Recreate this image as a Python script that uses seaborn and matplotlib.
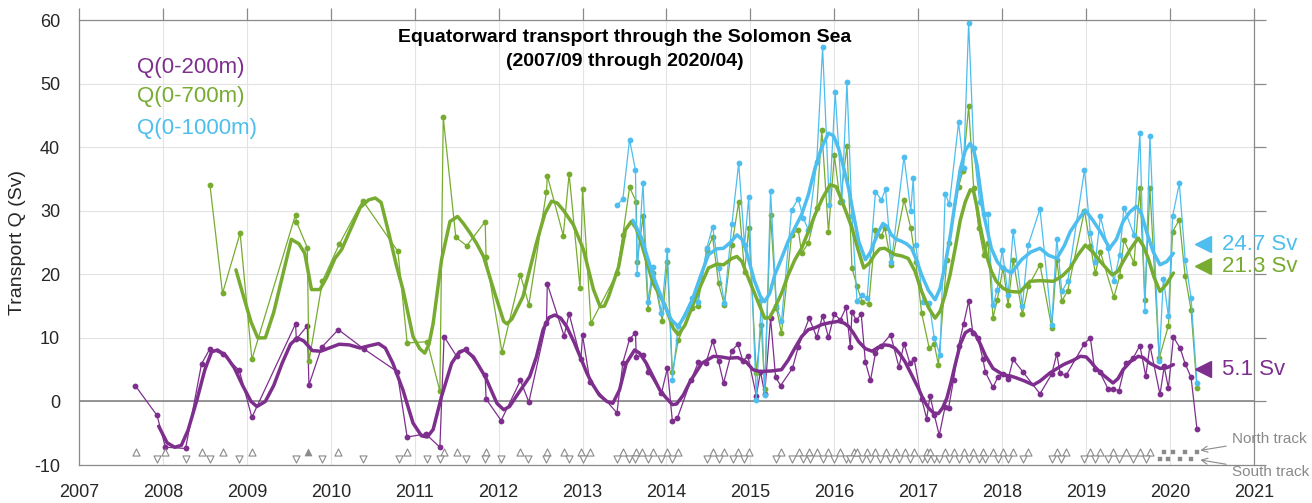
import numpy as np
import pandas as pd
import seaborn as sns
import matplotlib.pyplot as plt

# ---- raw transport estimates (decimal year, Sv) ----
t200 = [2007.67, 2007.93, 2008.03, 2008.27, 2008.46, 2008.56, 2008.71, 2008.91, 2009.06, 2009.58,
        2009.59, 2009.72, 2009.74, 2009.89, 2010.09, 2010.39, 2010.79, 2010.91, 2011.13, 2011.30,
        2011.35, 2011.50, 2011.61, 2011.84, 2011.85, 2012.03, 2012.26, 2012.36, 2012.57, 2012.58,
        2012.78, 2012.84, 2012.98, 2013.00, 2013.09, 2013.41, 2013.48, 2013.56, 2013.63, 2013.64,
        2013.72, 2013.78, 2013.94, 2014.01, 2014.07, 2014.13, 2014.29, 2014.38, 2014.47, 2014.55,
        2014.62, 2014.68, 2014.78, 2014.85, 2014.91, 2014.97, 2015.07, 2015.12, 2015.17, 2015.24,
        2015.30, 2015.36, 2015.50, 2015.57, 2015.70, 2015.79, 2015.86, 2015.93, 2016.00, 2016.07,
        2016.14, 2016.19, 2016.21, 2016.26, 2016.32, 2016.37, 2016.43, 2016.49, 2016.56, 2016.67,
        2016.77, 2016.83, 2016.90, 2016.95, 2017.04, 2017.10, 2017.14, 2017.19, 2017.25, 2017.32,
        2017.36, 2017.42, 2017.48, 2017.54, 2017.60, 2017.65, 2017.71, 2017.77, 2017.80, 2017.89,
        2017.95, 2018.01, 2018.07, 2018.13, 2018.25, 2018.45, 2018.59, 2018.65, 2018.69, 2018.76,
        2018.98, 2019.05, 2019.10, 2019.16, 2019.26, 2019.32, 2019.39, 2019.47, 2019.56, 2019.64,
        2019.71, 2019.76, 2019.88, 2019.93, 2019.98, 2020.04, 2020.12, 2020.18, 2020.25, 2020.32]
q200 = [2.5, -2.2, -7.2, -7.4, 5.9, 8.3, 7.4, 4.9, -2.5, 12.2,
        9.8, 11.9, 2.6, 8.5, 11.3, 8.3, 4.7, -5.6, -5.1, -7.2,
        10.2, 7.1, 8.2, 4.1, 0.4, -3.0, 3.3, -0.1, 12.4, 18.5,
        10.3, 13.8, 6.6, 10.4, 3.0, -1.8, 6.1, 9.8, 10.8, 7.0,
        7.3, 4.7, 1.3, 5.2, -3.1, -2.6, 3.3, 6.2, 6.1, 9.5,
        6.3, 2.9, 8.0, 9.0, 6.4, 7.1, 0.9, 4.7, 1.2, 13.1,
        3.8, 2.5, 5.2, 8.6, 13.1, 10.1, 13.5, 10.1, 13.8, 12.8,
        14.8, 8.6, 14.1, 12.8, 13.7, 6.2, 3.3, 7.6, 8.8, 10.5,
        5.4, 9.1, 6.0, 6.7, 0.4, -2.7, 0.9, -2.1, -5.3, -0.8,
        -1.1, 3.4, 8.8, 12.2, 15.8, 10.8, 10.0, 6.6, 4.6, 2.2,
        3.9, 4.3, 3.5, 6.6, 4.6, 1.2, 4.3, 7.5, 4.4, 4.1,
        9.1, 10.0, 5.1, 4.7, 2.0, 2.0, 1.7, 6.0, 6.8, 8.8,
        4.0, 8.8, 1.1, 5.5, 2.1, 10.1, 8.4, 5.9, 3.8, -4.3]

t700 = [2008.56, 2008.71, 2008.92, 2009.06, 2009.58, 2009.59, 2009.72, 2009.74, 2009.90, 2010.10,
        2010.38, 2010.80, 2010.91, 2011.15, 2011.30, 2011.34, 2011.49, 2011.62, 2011.84, 2011.85,
        2012.04, 2012.26, 2012.36, 2012.57, 2012.58, 2012.77, 2012.84, 2012.97, 2013.00, 2013.10,
        2013.41, 2013.48, 2013.56, 2013.64, 2013.65, 2013.72, 2013.78, 2013.84, 2013.95, 2014.01,
        2014.07, 2014.14, 2014.30, 2014.37, 2014.48, 2014.55, 2014.62, 2014.69, 2014.78, 2014.86,
        2014.93, 2014.98, 2015.07, 2015.13, 2015.17, 2015.24, 2015.31, 2015.37, 2015.49, 2015.57,
        2015.61, 2015.69, 2015.79, 2015.85, 2015.93, 2016.00, 2016.07, 2016.15, 2016.21, 2016.27,
        2016.33, 2016.41, 2016.49, 2016.56, 2016.60, 2016.68, 2016.83, 2016.91, 2016.97, 2017.04,
        2017.13, 2017.19, 2017.24, 2017.34, 2017.37, 2017.48, 2017.53, 2017.60, 2017.66, 2017.72,
        2017.78, 2017.83, 2017.89, 2017.94, 2018.01, 2018.07, 2018.13, 2018.24, 2018.31, 2018.45,
        2018.59, 2018.65, 2018.71, 2018.78, 2018.98, 2019.05, 2019.11, 2019.17, 2019.33, 2019.40,
        2019.45, 2019.57, 2019.64, 2019.70, 2019.76, 2019.87, 2019.98, 2020.03, 2020.11, 2020.18,
        2020.25, 2020.32]
q700 = [34.1, 17.0, 26.5, 6.6, 29.4, 28.3, 24.2, 6.3, 18.9, 24.7,
        31.6, 23.6, 9.2, 9.4, 1.6, 44.7, 25.8, 24.5, 28.3, 22.7,
        7.8, 19.9, 15.2, 33.0, 35.5, 26.1, 35.8, 17.8, 33.4, 12.3,
        20.2, 26.2, 33.7, 31.4, 22.0, 29.1, 14.5, 20.2, 12.7, 22.0,
        4.6, 9.6, 14.7, 15.0, 23.8, 25.8, 18.6, 15.2, 24.6, 31.4,
        20.4, 27.3, 4.5, 12.0, 2.0, 29.4, 14.7, 10.7, 26.2, 27.0,
        23.3, 24.9, 30.4, 42.7, 26.6, 38.7, 31.4, 40.2, 21.0, 18.1,
        15.7, 15.3, 27.0, 26.0, 27.3, 21.5, 31.7, 27.3, 22.0, 13.9,
        8.4, 9.0, 5.8, 22.3, 25.0, 33.8, 36.2, 46.4, 33.5, 27.3,
        23.1, 25.0, 13.2, 15.9, 21.0, 15.2, 22.3, 13.7, 18.1, 21.5,
        11.6, 22.3, 15.8, 17.4, 30.0, 24.5, 20.2, 23.5, 16.4, 19.7,
        25.4, 21.8, 33.5, 16.0, 33.5, 6.8, 11.9, 26.7, 28.6, 19.7,
        14.4, 2.1]

t1000 = [2013.41, 2013.48, 2013.56, 2013.63, 2013.65, 2013.72, 2013.78, 2013.84, 2013.94, 2014.01,
         2014.07, 2014.14, 2014.30, 2014.37, 2014.48, 2014.55, 2014.62, 2014.69, 2014.78, 2014.86,
         2014.93, 2014.98, 2015.07, 2015.13, 2015.17, 2015.24, 2015.31, 2015.37, 2015.49, 2015.57,
         2015.63, 2015.69, 2015.79, 2015.86, 2015.94, 2016.01, 2016.09, 2016.15, 2016.21, 2016.27,
         2016.33, 2016.39, 2016.49, 2016.56, 2016.61, 2016.68, 2016.83, 2016.91, 2016.94, 2016.97,
         2017.06, 2017.13, 2017.19, 2017.26, 2017.32, 2017.37, 2017.48, 2017.54, 2017.60, 2017.66,
         2017.73, 2017.78, 2017.83, 2017.89, 2017.94, 2018.00, 2018.07, 2018.13, 2018.24, 2018.31,
         2018.45, 2018.59, 2018.65, 2018.71, 2018.78, 2018.98, 2019.05, 2019.11, 2019.17, 2019.26,
         2019.33, 2019.40, 2019.45, 2019.57, 2019.64, 2019.70, 2019.76, 2019.87, 2019.92, 2019.98,
         2020.03, 2020.11, 2020.18, 2020.25, 2020.32]
q1000 = [30.9, 31.8, 41.2, 36.4, 20.1, 34.3, 15.7, 21.2, 13.9, 23.9,
         3.4, 11.8, 16.2, 15.6, 24.1, 27.5, 21.0, 15.5, 27.9, 37.5,
         24.6, 32.1, 0.3, 16.0, 1.0, 33.1, 15.0, 12.6, 30.1, 31.9,
         28.8, 27.0, 37.7, 55.7, 30.9, 48.6, 31.6, 50.2, 29.1, 15.8,
         16.8, 16.2, 33.0, 31.7, 33.4, 22.0, 38.5, 30.0, 35.1, 24.6,
         15.7, 15.5, 10.0, 7.3, 32.7, 31.0, 43.9, 36.7, 59.6, 39.8,
         31.4, 29.5, 29.5, 15.1, 17.6, 23.9, 16.7, 26.8, 15.0, 24.6,
         30.3, 12.1, 25.6, 17.3, 18.9, 36.4, 26.5, 22.0, 29.1, 24.1,
         18.9, 23.1, 30.5, 26.2, 42.2, 14.3, 41.8, 6.3, 19.3, 13.4,
         29.1, 34.3, 22.3, 16.3, 2.9]

# ---- smoothed curves ----
ts200 = [2007.95, 2008.05, 2008.14, 2008.22, 2008.30, 2008.40, 2008.50, 2008.58, 2008.65, 2008.75,
         2008.85, 2008.95, 2009.05, 2009.12, 2009.22, 2009.32, 2009.42, 2009.52, 2009.60, 2009.68,
         2009.78, 2009.88, 2010.00, 2010.10, 2010.22, 2010.35, 2010.47, 2010.57, 2010.65, 2010.74,
         2010.86, 2010.98, 2011.08, 2011.15, 2011.22, 2011.32, 2011.44, 2011.53, 2011.60, 2011.70,
         2011.84, 2011.98, 2012.06, 2012.13, 2012.21, 2012.37, 2012.45, 2012.53, 2012.60, 2012.67,
         2012.74, 2012.81, 2012.90, 2012.97, 2013.05, 2013.11, 2013.20, 2013.29, 2013.36, 2013.44,
         2013.52, 2013.62, 2013.68, 2013.76, 2013.92, 2013.98, 2014.07, 2014.12, 2014.20, 2014.28,
         2014.42, 2014.56, 2014.65, 2014.74, 2014.85, 2014.95, 2015.03, 2015.11, 2015.25, 2015.37,
         2015.45, 2015.53, 2015.61, 2015.69, 2015.77, 2015.85, 2015.95, 2016.05, 2016.12, 2016.17,
         2016.23, 2016.29, 2016.37, 2016.45, 2016.52, 2016.60, 2016.66, 2016.72, 2016.78, 2016.84,
         2016.92, 2017.00, 2017.06, 2017.12, 2017.18, 2017.24, 2017.29, 2017.34, 2017.39, 2017.44,
         2017.50, 2017.56, 2017.62, 2017.68, 2017.74, 2017.80, 2017.89, 2018.01, 2018.10, 2018.17,
         2018.27, 2018.37, 2018.45, 2018.57, 2018.73, 2018.85, 2018.93, 2019.00, 2019.05, 2019.12,
         2019.20, 2019.32, 2019.38, 2019.44, 2019.53, 2019.62, 2019.68, 2019.76, 2019.88, 2019.96,
         2020.04]
s200 = [-3.9, -6.5, -7.2, -6.9, -4.5, 0.0, 5.0, 7.8, 8.1, 7.2,
        5.3, 2.5, 0.0, -0.8, 0.0, 2.5, 6.0, 9.0, 10.0, 9.5,
        8.0, 7.9, 8.5, 9.0, 8.9, 8.4, 8.8, 9.1, 8.4, 6.0,
        1.8, -3.4, -5.4, -5.6, -4.4, 0.8, 6.0, 7.8, 8.1, 7.0,
        3.9, -0.3, -1.3, -0.8, 0.8, 3.9, 7.0, 11.3, 13.2, 13.6,
        13.1, 11.8, 9.3, 7.1, 4.5, 2.9, 1.0, 0.0, -0.3, 1.8,
        6.0, 8.1, 7.6, 6.0, 1.8, 0.8, -0.5, -0.4, 1.0, 3.1,
        6.0, 7.1, 7.0, 6.8, 6.9, 6.2, 5.0, 4.7, 4.8, 5.0,
        6.5, 8.4, 10.2, 11.3, 11.6, 12.1, 12.4, 12.6, 12.3, 11.8,
        10.7, 9.4, 8.3, 7.9, 8.5, 8.9, 8.8, 8.4, 7.5, 6.3,
        4.2, 2.1, 0.3, -1.0, -1.8, -1.9, -1.0, 0.5, 3.0, 5.8,
        9.0, 10.8, 11.3, 10.6, 9.0, 7.2, 5.2, 4.2, 4.0, 3.7,
        3.2, 2.6, 3.2, 4.5, 5.8, 6.5, 7.1, 7.0, 6.3, 5.2,
        4.2, 2.9, 3.6, 5.0, 6.3, 7.1, 6.9, 6.0, 5.2, 5.3,
        5.8]

ts700 = [2008.87, 2008.95, 2009.05, 2009.13, 2009.22, 2009.32, 2009.43, 2009.53, 2009.62, 2009.69,
         2009.77, 2009.87, 2009.95, 2010.05, 2010.13, 2010.25, 2010.35, 2010.45, 2010.53, 2010.60,
         2010.70, 2010.78, 2010.86, 2010.98, 2011.06, 2011.12, 2011.17, 2011.22, 2011.32, 2011.42,
         2011.51, 2011.58, 2011.66, 2011.74, 2011.82, 2011.94, 2012.06, 2012.10, 2012.16, 2012.29,
         2012.45, 2012.55, 2012.63, 2012.70, 2012.77, 2012.89, 2013.01, 2013.13, 2013.21, 2013.26,
         2013.31, 2013.43, 2013.51, 2013.58, 2013.64, 2013.70, 2013.84, 2013.98, 2014.08, 2014.14,
         2014.22, 2014.30, 2014.40, 2014.50, 2014.60, 2014.68, 2014.78, 2014.84, 2014.90, 2014.96,
         2015.09, 2015.17, 2015.23, 2015.29, 2015.37, 2015.45, 2015.53, 2015.61, 2015.69, 2015.77,
         2015.86, 2015.95, 2016.02, 2016.07, 2016.14, 2016.21, 2016.28, 2016.35, 2016.42, 2016.48,
         2016.54, 2016.60, 2016.66, 2016.72, 2016.80, 2016.88, 2016.96, 2017.04, 2017.12, 2017.20,
         2017.26, 2017.32, 2017.38, 2017.44, 2017.50, 2017.56, 2017.62, 2017.66, 2017.70, 2017.74,
         2017.81, 2017.87, 2017.93, 2018.01, 2018.09, 2018.21, 2018.33, 2018.45, 2018.61, 2018.72,
         2018.81, 2018.90, 2018.99, 2019.08, 2019.17, 2019.31, 2019.38, 2019.44, 2019.53, 2019.62,
         2019.68, 2019.74, 2019.81, 2019.88, 2019.96, 2020.04]
s700 = [20.7, 17.0, 12.5, 10.0, 10.0, 14.0, 20.0, 25.5, 24.8, 23.3,
        17.6, 17.6, 19.5, 22.5, 23.9, 27.5, 30.5, 31.7, 32.0, 31.3,
        26.0, 21.5, 17.6, 10.2, 8.3, 7.6, 9.0, 12.3, 22.3, 28.3,
        29.1, 28.0, 26.5, 24.8, 22.8, 17.6, 12.6, 12.2, 13.0, 16.5,
        24.9, 29.5, 31.5, 31.2, 30.1, 27.8, 23.9, 17.6, 14.9, 15.0,
        16.5, 21.2, 27.0, 28.3, 27.2, 24.9, 18.6, 15.2, 11.5, 10.5,
        12.0, 14.7, 18.0, 21.0, 21.6, 21.5, 22.5, 22.8, 22.0, 19.9,
        15.7, 13.1, 13.2, 14.7, 17.0, 19.9, 22.3, 24.1, 26.7, 29.4,
        32.0, 34.1, 33.8, 32.2, 29.8, 27.3, 24.0, 21.0, 21.8, 23.1,
        24.0, 24.1, 23.6, 23.1, 22.9, 22.5, 20.5, 17.3, 14.8, 13.1,
        14.2, 16.8, 20.0, 24.1, 28.5, 31.4, 33.3, 33.0, 30.5, 27.3,
        23.1, 20.5, 18.9, 17.8, 17.3, 17.2, 18.9, 19.0, 18.9, 19.8,
        21.0, 23.0, 24.6, 23.5, 22.0, 19.9, 20.5, 22.0, 24.0, 25.7,
        24.5, 22.5, 19.5, 17.3, 18.5, 20.2]

ts1000 = [2013.60, 2013.70, 2013.84, 2013.98, 2014.06, 2014.14, 2014.22, 2014.30, 2014.40, 2014.50,
          2014.60, 2014.68, 2014.76, 2014.84, 2014.90, 2014.94, 2015.05, 2015.12, 2015.17, 2015.23,
          2015.29, 2015.37, 2015.45, 2015.53, 2015.61, 2015.69, 2015.77, 2015.85, 2015.93, 2015.99,
          2016.05, 2016.11, 2016.17, 2016.23, 2016.29, 2016.37, 2016.43, 2016.48, 2016.53, 2016.58,
          2016.63, 2016.68, 2016.74, 2016.80, 2016.86, 2016.92, 2016.98, 2017.04, 2017.12, 2017.20,
          2017.26, 2017.32, 2017.38, 2017.44, 2017.50, 2017.56, 2017.62, 2017.66, 2017.70, 2017.78,
          2017.87, 2017.94, 2018.00, 2018.11, 2018.23, 2018.34, 2018.45, 2018.55, 2018.65, 2018.74,
          2018.81, 2018.90, 2018.99, 2019.08, 2019.17, 2019.28, 2019.36, 2019.44, 2019.52, 2019.60,
          2019.66, 2019.72, 2019.80, 2019.88, 2019.96, 2020.04]
s1000 = [28.5, 25.8, 19.8, 15.0, 12.8, 11.8, 13.5, 15.7, 19.5, 23.1,
         24.0, 24.1, 25.0, 26.2, 25.5, 24.1, 18.9, 16.5, 15.7, 17.0,
         19.9, 22.5, 25.2, 27.3, 29.4, 32.5, 36.7, 40.0, 42.2, 41.8,
         39.8, 36.8, 33.5, 29.3, 25.2, 22.3, 23.5, 25.2, 26.8, 28.0,
         27.5, 26.2, 25.5, 25.2, 24.8, 24.1, 22.2, 19.9, 17.5, 16.0,
         17.8, 21.5, 26.0, 31.4, 36.5, 39.5, 40.6, 39.5, 37.2, 29.4,
         24.1, 22.0, 21.0, 20.2, 22.3, 23.5, 24.1, 23.0, 22.5, 24.5,
         26.7, 28.5, 30.1, 28.5, 26.7, 24.1, 25.5, 28.3, 29.8, 30.7,
         29.5, 26.7, 23.5, 21.5, 22.0, 23.3]

# ---- glider transect dates ----
north_open = [2007.68, 2008.03, 2008.46, 2008.71, 2009.06, 2010.09, 2010.91, 2011.35, 2011.50, 2011.85,
              2012.25, 2012.58, 2012.78, 2012.98, 2013.09, 2013.48, 2013.64, 2013.71, 2013.84, 2014.01,
              2014.14, 2014.55, 2014.69, 2014.85, 2014.98, 2015.36, 2015.58, 2015.70, 2015.79, 2015.93,
              2016.07, 2016.23, 2016.27, 2016.39, 2016.49, 2016.62, 2016.73, 2016.84, 2016.95, 2017.10,
              2017.14, 2017.32, 2017.42, 2017.54, 2017.65, 2017.77, 2017.89, 2018.01, 2018.13, 2018.31,
              2018.65, 2018.76, 2019.05, 2019.16, 2019.32, 2019.47, 2019.64, 2019.76]
north_filled = [2009.73]
south_open = [2007.93, 2008.27, 2008.56, 2008.91, 2009.58, 2009.89, 2010.38, 2010.81, 2011.15, 2011.30,
              2011.61, 2011.84, 2012.03, 2012.35, 2012.57, 2012.84, 2013.00, 2013.41, 2013.55, 2013.63,
              2013.78, 2013.94, 2014.07, 2014.48, 2014.62, 2014.79, 2014.92, 2015.30, 2015.50, 2015.63,
              2015.71, 2015.86, 2016.00, 2016.14, 2016.19, 2016.33, 2016.43, 2016.54, 2016.66, 2016.77,
              2016.90, 2017.04, 2017.10, 2017.19, 2017.25, 2017.36, 2017.48, 2017.60, 2017.72, 2017.80,
              2017.95, 2018.07, 2018.25, 2018.59, 2018.70, 2018.98, 2019.10, 2019.26, 2019.39, 2019.56,
              2019.71]
north_sq = [2019.93, 2020.04, 2020.18, 2020.32]
south_sq = [2019.88, 2019.98, 2020.12, 2020.25]

labels = ["Q(0-200m)", "Q(0-700m)", "Q(0-1000m)"]
means = [5.1, 21.3, 24.7]

c200, c700, c1000 = "#7E2F8E", "#77AC30", "#4DBEEE"
gray = "#8a8a8a"

sns.set_theme(style="white")
plt.rcParams["font.family"] = ["Liberation Sans", "DejaVu Sans"]
plt.rcParams["axes.unicode_minus"] = False

fig = plt.figure(figsize=(13.12, 5.03), dpi=100)
ax = fig.add_axes([0.0602, 0.0755, 0.8956, 0.8847])

ax.grid(True, color="#e3e3e3", linewidth=0.8)
ax.axhline(0, color="#7a7a7a", linewidth=1.1, zorder=1)

# raw series
for t, q, c in [(t200, q200, c200), (t700, q700, c700), (t1000, q1000, c1000)]:
    sns.lineplot(x=t, y=q, ax=ax, estimator=None, sort=False, color=c, linewidth=0.9,
                 marker="o", markersize=4.2, markeredgewidth=0, zorder=3)

# smoothed series
for t, s, c in [(ts200, s200, c200), (ts700, s700, c700), (ts1000, s1000, c1000)]:
    sns.lineplot(x=t, y=s, ax=ax, estimator=None, sort=False, color=c, linewidth=2.5, zorder=4)

# transect markers
sns.scatterplot(x=north_open, y=[-8.0] * len(north_open), ax=ax, marker="^", s=26,
                facecolor="white", edgecolor=gray, linewidth=0.8, zorder=5)
sns.scatterplot(x=south_open, y=[-9.1] * len(south_open), ax=ax, marker="v", s=26,
                facecolor="white", edgecolor=gray, linewidth=0.8, zorder=5)
sns.scatterplot(x=north_filled, y=[-8.0], ax=ax, marker="^", s=26,
                color=gray, edgecolor=gray, zorder=5)
sns.scatterplot(x=north_sq, y=[-7.9] * len(north_sq), ax=ax, marker="s", s=12,
                color=gray, edgecolor=gray, zorder=5)
sns.scatterplot(x=south_sq, y=[-9.0] * len(south_sq), ax=ax, marker="s", s=12,
                color=gray, edgecolor=gray, zorder=5)

ax.set_xlim(2007, 2021)
ax.set_ylim(-10, 60)
ax.set_xticks(range(2007, 2022))
ax.set_yticks(range(-10, 61, 10))
ax.tick_params(direction="out", length=8.5, width=0.9, color=gray, labelsize=13,
               top=True, right=True, labeltop=False, labelright=False, pad=5)
for sp in ax.spines.values():
    sp.set_color(gray)
    sp.set_linewidth(0.9)
ax.set_ylabel("Transport Q (Sv)", fontsize=14, labelpad=6)
ax.set_xlabel("")

# title inside the axes
ax.text(2013.5, 57.2, "Equatorward transport through the Solomon Sea",
        ha="center", va="center", fontsize=14, fontweight="bold", color="black")
ax.text(2013.5, 53.4, "(2007/09 through 2020/04)",
        ha="center", va="center", fontsize=14, fontweight="bold", color="black")

# coloured legend text
for lab, yy, c in zip(labels, [52.6, 47.9, 43.0], [c200, c700, c1000]):
    ax.text(2007.69, yy, lab, color=c, fontsize=16, ha="left", va="center")

# mean values on the right
for m, c in zip(means, [c200, c700, c1000]):
    ax.plot([2020.39], [m], marker="<", markersize=12, color=c, clip_on=False, zorder=6)
    ax.text(2020.62, m, f"{m} Sv", color=c, fontsize=16, ha="left", va="center")

# track annotations
ax.annotate("North track", xy=(2020.36, -7.7), xytext=(2020.74, -5.9),
            color=gray, fontsize=11, ha="left", va="center", annotation_clip=False,
            arrowprops=dict(arrowstyle="->", color=gray, lw=0.8, shrinkA=2, shrinkB=0))
ax.annotate("South track", xy=(2020.36, -9.2), xytext=(2020.74, -11.05),
            color=gray, fontsize=11, ha="left", va="center", annotation_clip=False,
            arrowprops=dict(arrowstyle="->", color=gray, lw=0.8, shrinkA=2, shrinkB=0))

fig.savefig("out.png", dpi=100)
